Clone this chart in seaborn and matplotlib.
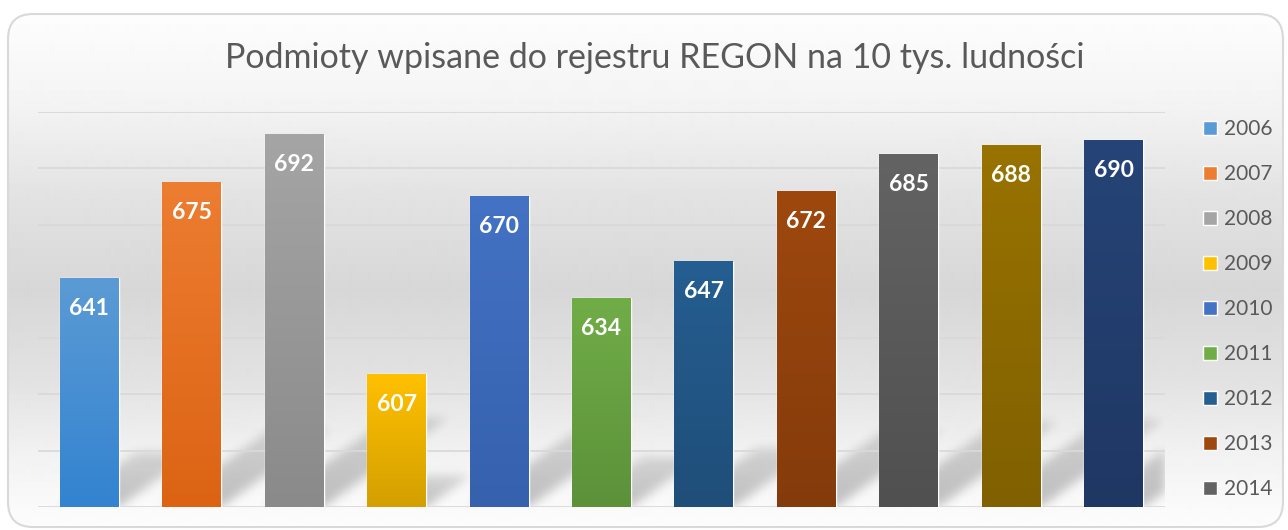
import numpy as np
import matplotlib
matplotlib.use('Agg')
import matplotlib.pyplot as plt
import seaborn as sns
from matplotlib.colors import to_rgb
from matplotlib.patches import FancyBboxPatch, Patch
from matplotlib.path import Path

# data
years = ['2006', '2007', '2008', '2009', '2010', '2011',
         '2012', '2013', '2014', '2015', '2016']
values = [641, 675, 692, 607, 670, 634, 647, 672, 685, 688, 690]
legend_years = years[:9]   # the legend is cut off after 2014 in the original
title = 'Podmioty wpisane do rejestru REGON na 10 tys. ludności'

top_colors = ['#5b9bd5', '#ed7d31', '#a5a5a5', '#ffc000', '#4472c4', '#70ad47',
              '#255e91', '#9e480e', '#636363', '#997300', '#264478']
bottom_colors = ['#3383d0', '#dc6314', '#8a8a8a', '#d4a000', '#3561ad', '#5c913a',
                 '#1f4e79', '#843b0b', '#505050', '#806000', '#1f3763']

sns.set_style('white')
plt.rcParams['font.family'] = ['Lato', 'DejaVu Sans']

W, H = 1288, 530
fig = plt.figure(figsize=(W / 100, H / 100), dpi=100)
fig.patch.set_facecolor('white')

# background: rounded card with grey vertical gradient
bg = fig.add_axes([0, 0, 1, 1], zorder=-10)
bg.set_xlim(0, W)
bg.set_ylim(H, 0)
bg.axis('off')
stops_y = [0, 15, 100, 200, 290, 380, 460, 530]
stops_g = [255, 253, 244, 226, 215, 226, 243, 253]
g = np.interp(np.arange(H), stops_y, stops_g) / 255
card = FancyBboxPatch((8, 14), 1275, 513, boxstyle='round,pad=0,rounding_size=25',
                      facecolor='none', edgecolor='#d9d9d9', lw=1.5)
bg.add_patch(card)
im = bg.imshow(g[:, None], extent=(0, W, H, 0), aspect='auto', cmap='gray',
               vmin=0, vmax=1, interpolation='bilinear')
im.set_clip_path(card)

# main plot
ax = fig.add_axes([38 / W, (H - 507) / H, (1165 - 38) / W, (507 - 112) / H])
ax.patch.set_alpha(0)
sns.barplot(x=years, y=values, hue=years, palette=top_colors, legend=False,
            ax=ax, width=0.575, saturation=1)
ax.set_ylim(560, 700)
ax.set_yticks(range(560, 701, 20))
ax.yaxis.grid(True, color='#d9d9d9', lw=1.3)
ax.set_axisbelow(True)
ax.tick_params(labelbottom=False, labelleft=False, length=0)
ax.set_xlabel('')
ax.set_ylabel('')
sns.despine(ax=ax, left=True, bottom=True)
xlim = ax.get_xlim()
ylim = ax.get_ylim()

bars = sorted(ax.patches, key=lambda p: p.get_x())

# diagonal soft shadows
fig.canvas.draw()
bb = ax.get_window_extent()
nx, ny = int(round(bb.width)), int(round(bb.height))
px, py = np.meshgrid(np.arange(nx) + 0.5, np.arange(ny) + 0.5)
pts = np.column_stack([px.ravel(), py.ravel()])
shade = np.zeros((ny, nx))
for p in bars:
    (x0, y0), (x1, y1) = ax.transData.transform(
        [(p.get_x(), ylim[0]), (p.get_x() + p.get_width(), p.get_height())])
    x0, x1, y0, y1 = x0 - bb.x0, x1 - bb.x0, y0 - bb.y0, y1 - bb.y0
    rise = 0.24 * (y1 - y0)
    dx = 1.4 * rise
    poly = [(x0, y0), (x1, y0), (x1 + dx, y0 + rise), (x0 + dx, y0 + rise)]
    mask = Path(poly).contains_points(pts).reshape(ny, nx)
    weight = 1 - 0.45 * np.clip((py - y0) / rise, 0, 1)
    shade = np.maximum(shade, mask * weight)
k = np.exp(-0.5 * (np.arange(-15, 16) / 5.0) ** 2)
k /= k.sum()
shade = np.apply_along_axis(lambda r: np.convolve(r, k, mode='same'), 1, shade)
shade = np.apply_along_axis(lambda c: np.convolve(c, k, mode='same'), 0, shade)
rgba = np.zeros((ny, nx, 4))
rgba[..., 3] = 0.24 * shade
ax.imshow(rgba, extent=(xlim[0], xlim[1], ylim[0], ylim[1]), origin='lower',
          aspect='auto', zorder=0.3, interpolation='bilinear')

# gradient fill on each bar
for p, ct, cb in zip(bars, top_colors, bottom_colors):
    grad = np.linspace(0, 1, 128)[:, None, None]
    col = (1 - grad) * np.array(to_rgb(cb)) + grad * np.array(to_rgb(ct))
    ax.imshow(col, extent=(p.get_x(), p.get_x() + p.get_width(), ylim[0], p.get_height()),
              origin='lower', aspect='auto', zorder=1.5, interpolation='bilinear')
    p.set_facecolor('none')

for p, v in zip(bars, values):
    ax.annotate(f'{v}', (p.get_x() + p.get_width() / 2, p.get_height()),
                xytext=(0, -30), textcoords='offset pixels', ha='center', va='center',
                color='white', fontsize=16.5, fontweight='bold', zorder=4)

ax.set_xlim(xlim)
ax.set_ylim(ylim)

fig.text(655 / W, 1 - 58 / H, title, ha='center', va='center',
         fontsize=24.5, color='#595959')

handles = [Patch(facecolor=c) for c in top_colors[:len(legend_years)]]
fig.legend(handles, legend_years, loc='upper left', bbox_to_anchor=(1203 / W, 1 - 119 / H),
           frameon=False, fontsize=15, handlelength=0.67, handleheight=0.67,
           handletextpad=0.35, labelspacing=1.2, borderpad=0, borderaxespad=0,
           labelcolor='#595959')

fig.savefig('out.png', dpi=100)
